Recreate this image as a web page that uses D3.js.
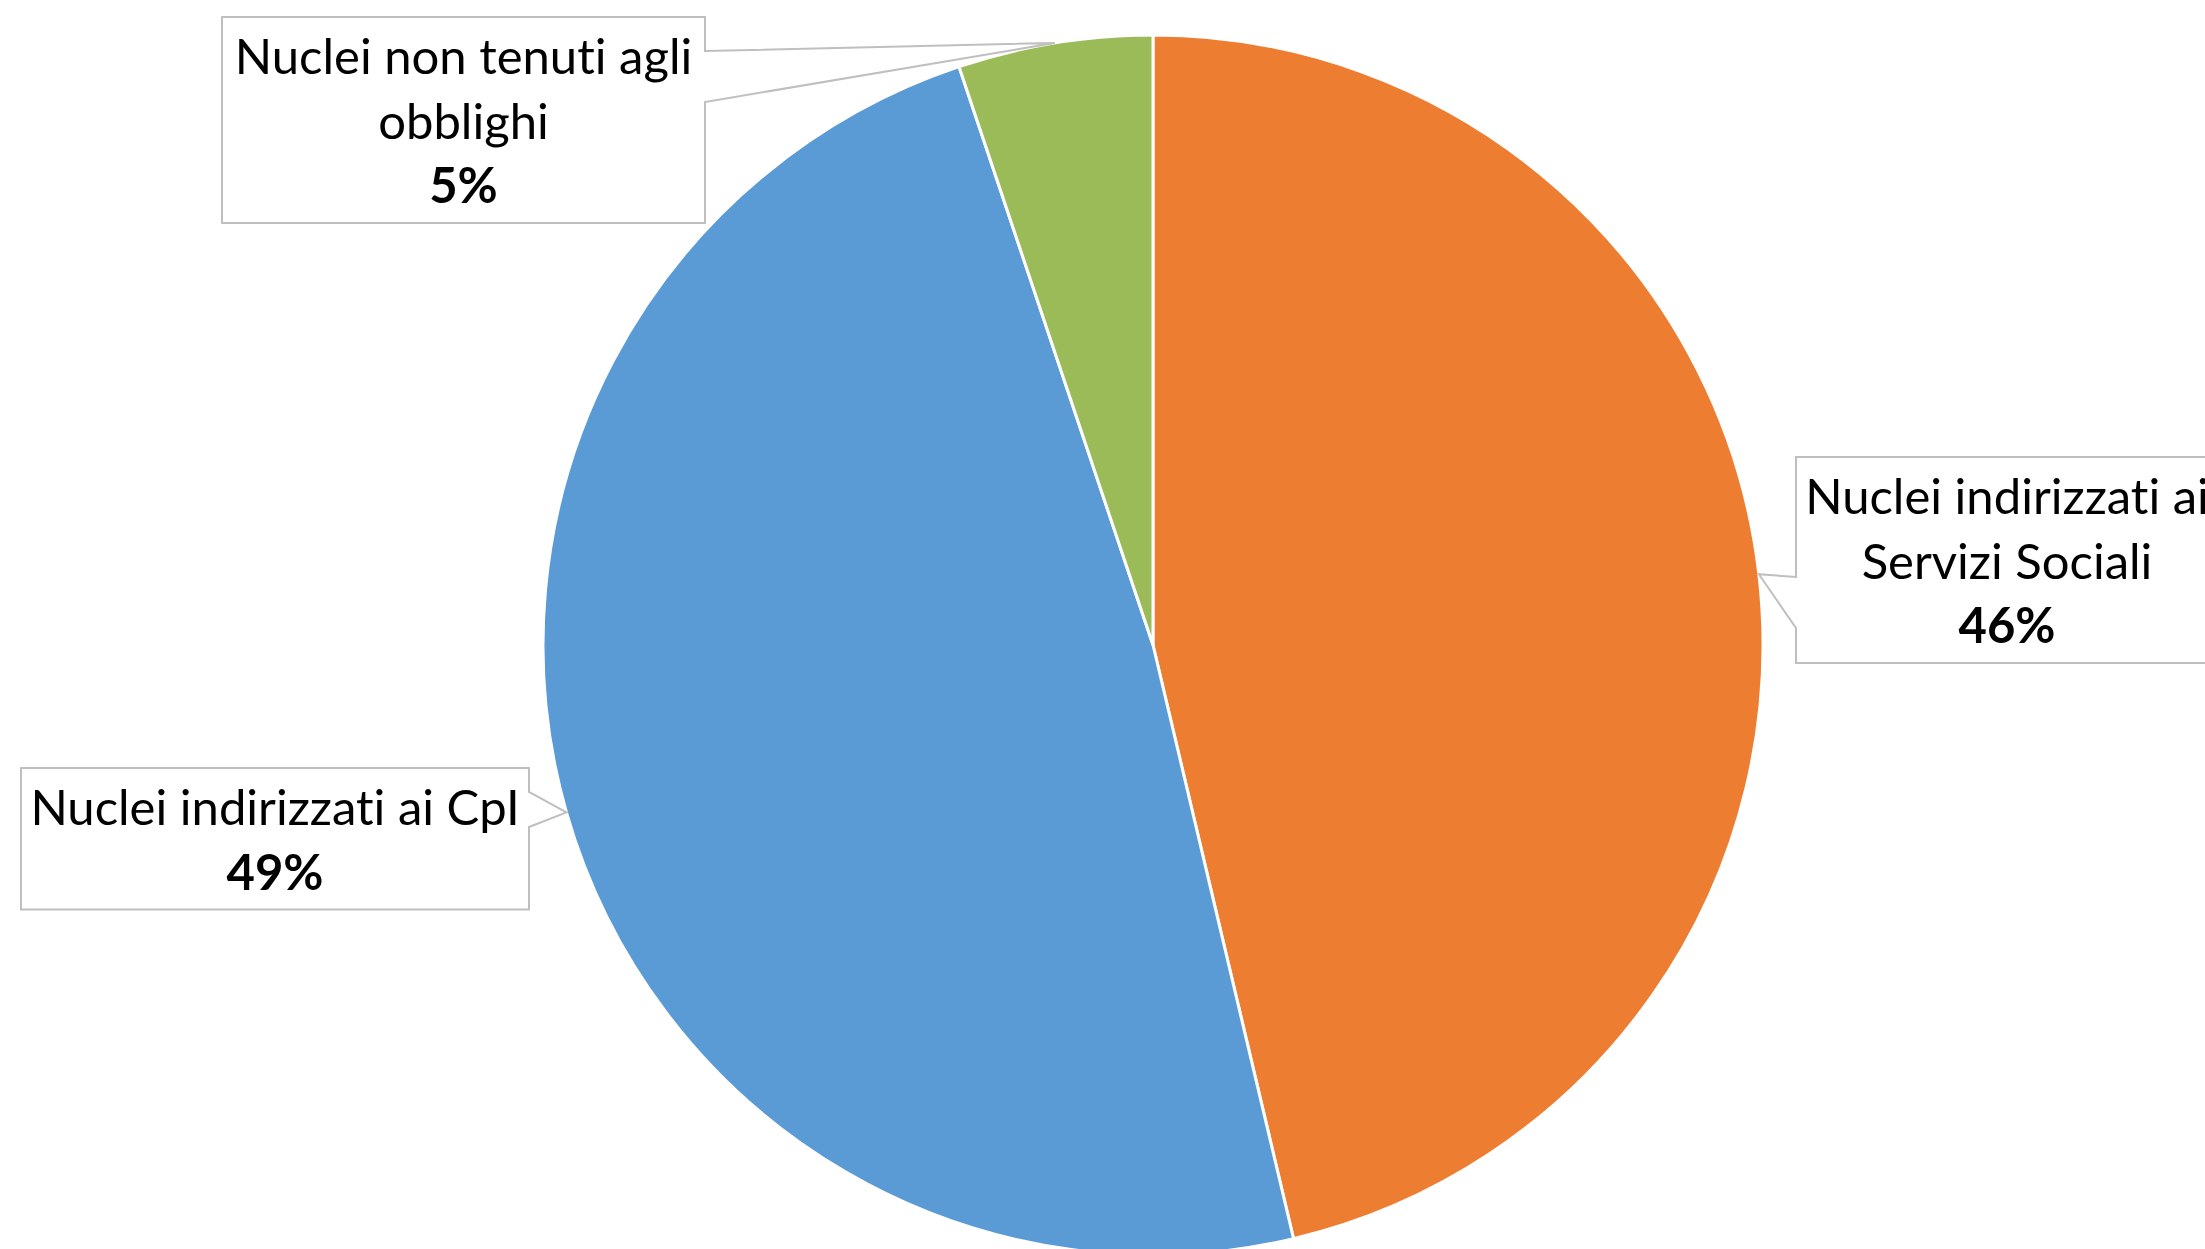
<!DOCTYPE html>
<html>
<head>
<meta charset="utf-8">
<script src="https://cdn.jsdelivr.net/npm/d3@7"></script>
<style>
  html, body { margin: 0; padding: 0; background: #ffffff; overflow: hidden; }
</style>
</head>
<body>
<div id="chart"></div>
<script>
var width = 2205;
var height = 1249;
var centerX = 1153;
var centerY = 645;
var radius = 610;
var fontSize = 49;
var lineStep = 64.5;

// data (shares, clockwise from 12 o'clock)
var categories = ["Nuclei indirizzati ai Servizi Sociali", "Nuclei indirizzati ai CpI", "Nuclei non tenuti agli obblighi"];
var values = [46.3, 48.55, 5.15];
var labelLines = [
    ["Nuclei indirizzati ai", "Servizi Sociali"],
    ["Nuclei indirizzati ai CpI"],
    ["Nuclei non tenuti agli", "obblighi"]
];
var colors = ["#ED7D31", "#5B9BD5", "#9BBB59"];

// callout boxes: left, top, width, pointer side and pointer base offsets from box top
var callouts = [
    { x: 1796, y: 457, w: 422, side: "left", base: [120, 171] },
    { x: 21, y: 768, w: 508, side: "right", base: [24, 59] },
    { x: 222, y: 17, w: 483, side: "right", base: [34, 85] }
];

var svg = d3.select("#chart")
            .append("svg")
            .attr("width", width)
            .attr("height", height);

var total = d3.sum(values);

var pie = d3.pie()
            .sort(null)
            .value(function(d) { return d; });

var arcs = pie(values);

var arc = d3.arc()
            .innerRadius(0)
            .outerRadius(radius);

var pieGroup = svg.append("g")
                  .attr("transform", "translate(" + centerX + "," + centerY + ")");

pieGroup.selectAll("path")
        .data(arcs)
        .enter()
        .append("path")
        .attr("d", arc)
        .attr("fill", function(d, i) { return colors[i]; })
        .attr("stroke", "white")
        .attr("stroke-width", 3)
        .attr("stroke-linejoin", "round");

// labels with callout pointer to the middle of each slice edge
arcs.forEach(function(d, i) {
    var c = callouts[i];
    var lines = labelLines[i];
    var nLines = lines.length + 1;
    var h = 57 + (nLines - 1) * lineStep + 20;
    var mid = (d.startAngle + d.endAngle) / 2;
    var ax = centerX + radius * Math.sin(mid);
    var ay = centerY - radius * Math.cos(mid);

    var left = c.x, right = c.x + c.w, top = c.y, bottom = c.y + h;
    var b1 = top + c.base[0], b2 = top + c.base[1];
    var pts;
    if (c.side === "right") {
        pts = [[left, top], [right, top], [right, b1], [ax, ay], [right, b2], [right, bottom], [left, bottom]];
    } else {
        pts = [[left, top], [right, top], [right, bottom], [left, bottom], [left, b2], [ax, ay], [left, b1]];
    }

    svg.append("path")
       .attr("d", d3.line()(pts) + "Z")
       .attr("fill", "white")
       .attr("stroke", "#bfbfbf")
       .attr("stroke-width", 2);

    var cx = left + c.w / 2;
    var text = svg.append("text")
                  .attr("text-anchor", "middle")
                  .style("font-family", "Lato, 'Open Sans', sans-serif")
                  .style("font-size", fontSize + "px")
                  .style("font-variant-ligatures", "none")
                  .attr("fill", "#000000");

    lines.forEach(function(line, j) {
        text.append("tspan")
            .attr("x", cx)
            .attr("y", top + 57 + j * lineStep)
            .text(line);
    });

    text.append("tspan")
        .attr("x", cx)
        .attr("y", top + 57 + lines.length * lineStep)
        .style("font-weight", "bold")
        .text(Math.round(d.value / total * 100) + "%");
});
</script>
</body>
</html>
